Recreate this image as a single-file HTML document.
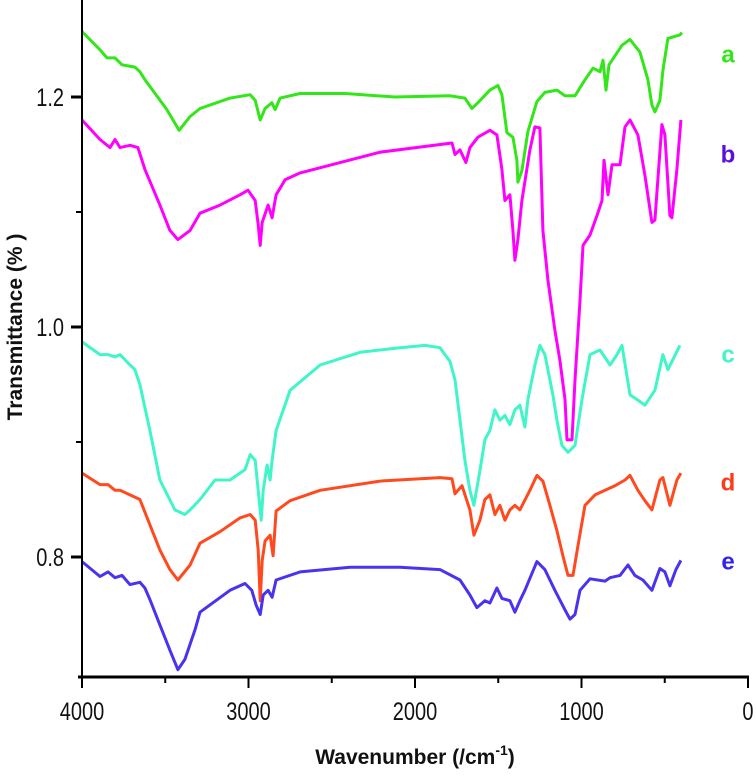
<!DOCTYPE html>
<html><head><meta charset="utf-8"><style>
html,body{margin:0;padding:0;background:#fff;}
svg{display:block;font-family:"Liberation Sans",sans-serif;}
</style></head><body>
<svg id="chart" width="756" height="778" viewBox="0 0 756 778" xmlns="http://www.w3.org/2000/svg"></svg>
<script>
const xTicks=[4000,3000,2000,1000,0];
const xMinor=[3500,2500,1500,500];
const yTicks=[0.8,1.0,1.2];
const yTickLabels=["0.8","1.0","1.2"];
const yMinor=[0.9,1.1];
const seriesNames=["a","b","c","d","e"];
const seriesColors=["#33e619","#ff00ff","#40f5c8","#ff4a1f","#4a33ee"];
const labelColors=["#33e619","#5a10dd","#40f5c8","#ff3a1a","#3322ee"];
const aWave=[4000,3892,3850,3802,3760,3682,3652,3622,3490,3417,3351,3291,3111,2990,2960,2930,2900,2860,2840,2810,2690,2420,2120,1790,1700,1658,1622,1550,1502,1478,1448,1412,1388,1382,1358,1322,1268,1220,1147,1099,1039,979,931,889,871,853,835,757,709,649,601,577,559,529,511,481,409,397];
const aVal=[1.257,1.241,1.234,1.234,1.228,1.226,1.222,1.215,1.189,1.171,1.183,1.190,1.199,1.202,1.197,1.180,1.190,1.195,1.189,1.199,1.203,1.203,1.200,1.201,1.199,1.190,1.195,1.206,1.210,1.202,1.169,1.165,1.145,1.126,1.136,1.170,1.196,1.204,1.206,1.201,1.201,1.215,1.225,1.222,1.232,1.206,1.228,1.245,1.250,1.239,1.215,1.193,1.187,1.197,1.223,1.251,1.254,1.256];
const bWave=[4000,3892,3832,3802,3772,3712,3664,3622,3532,3472,3424,3351,3291,3171,3051,3003,2960,2942,2930,2918,2882,2858,2834,2780,2690,2210,1778,1760,1730,1694,1670,1622,1550,1508,1478,1460,1430,1412,1400,1382,1358,1310,1280,1250,1232,1202,1160,1130,1099,1087,1057,1039,1009,991,949,907,877,865,841,817,769,739,709,661,619,577,559,517,499,469,457,427,403];
const bVal=[1.180,1.163,1.156,1.163,1.156,1.158,1.156,1.137,1.106,1.084,1.076,1.084,1.099,1.106,1.115,1.119,1.110,1.089,1.071,1.091,1.106,1.095,1.115,1.128,1.134,1.152,1.160,1.150,1.154,1.143,1.156,1.165,1.171,1.167,1.137,1.110,1.115,1.084,1.058,1.076,1.110,1.154,1.174,1.173,1.084,1.041,0.997,0.971,0.937,0.902,0.902,0.954,1.023,1.071,1.080,1.097,1.110,1.145,1.115,1.141,1.141,1.174,1.180,1.167,1.132,1.091,1.093,1.176,1.167,1.097,1.095,1.137,1.180];
const cWave=[4000,3892,3844,3802,3772,3712,3682,3652,3592,3532,3442,3382,3351,3291,3201,3111,3021,2990,2960,2942,2924,2912,2888,2870,2858,2834,2750,2570,2330,2090,1940,1850,1790,1760,1730,1700,1670,1646,1610,1580,1550,1520,1490,1460,1430,1400,1370,1340,1322,1280,1250,1220,1172,1148,1118,1081,1039,997,949,889,829,787,757,709,667,619,559,511,481,409];
const cVal=[0.987,0.976,0.976,0.974,0.976,0.967,0.963,0.950,0.910,0.867,0.841,0.837,0.841,0.850,0.867,0.867,0.876,0.889,0.884,0.858,0.832,0.858,0.880,0.867,0.884,0.910,0.945,0.967,0.978,0.982,0.984,0.982,0.970,0.954,0.919,0.884,0.858,0.845,0.875,0.902,0.910,0.928,0.919,0.923,0.915,0.928,0.932,0.913,0.937,0.967,0.984,0.976,0.941,0.919,0.897,0.891,0.897,0.937,0.976,0.980,0.967,0.976,0.984,0.941,0.937,0.932,0.945,0.976,0.963,0.984];
const dWave=[4000,3892,3844,3802,3772,3712,3652,3592,3532,3472,3424,3351,3291,3171,3051,2990,2960,2942,2930,2918,2900,2870,2852,2834,2750,2570,2210,1850,1778,1760,1718,1670,1646,1610,1580,1550,1520,1490,1460,1430,1400,1370,1310,1268,1232,1190,1148,1112,1081,1051,1021,979,919,859,799,739,709,661,619,577,529,511,469,427,403];
const dVal=[0.873,0.863,0.863,0.858,0.858,0.854,0.850,0.828,0.806,0.789,0.780,0.793,0.812,0.822,0.834,0.837,0.832,0.806,0.762,0.797,0.814,0.819,0.801,0.840,0.849,0.858,0.866,0.869,0.868,0.855,0.862,0.841,0.819,0.832,0.850,0.854,0.837,0.845,0.832,0.841,0.845,0.841,0.858,0.871,0.866,0.845,0.823,0.801,0.784,0.784,0.810,0.845,0.854,0.858,0.862,0.867,0.871,0.858,0.849,0.841,0.867,0.869,0.845,0.867,0.873];
const eWave=[4000,3892,3844,3802,3760,3712,3652,3622,3592,3532,3472,3424,3382,3321,3291,3111,3021,2980,2954,2930,2912,2882,2858,2834,2690,2390,2090,1850,1730,1670,1628,1580,1550,1508,1478,1430,1400,1370,1340,1268,1220,1160,1099,1069,1039,1009,949,859,829,769,721,679,631,577,529,499,469,433,403];
const eVal=[0.796,0.783,0.787,0.782,0.784,0.776,0.778,0.773,0.763,0.741,0.719,0.702,0.711,0.737,0.752,0.771,0.777,0.771,0.758,0.750,0.767,0.771,0.765,0.780,0.787,0.791,0.791,0.789,0.780,0.767,0.756,0.762,0.760,0.773,0.764,0.762,0.752,0.762,0.771,0.796,0.789,0.771,0.754,0.746,0.750,0.771,0.781,0.779,0.782,0.784,0.793,0.784,0.780,0.771,0.790,0.787,0.775,0.789,0.797];
const waves=[aWave,bWave,cWave,dWave,eWave];
const vals=[aVal,bVal,cVal,dVal,eVal];
const labelY=[1.237,1.150,0.976,0.865,0.796];

const X0=82,X1=748,Y0=677;
function xs(w){return X0+(4000-w)*(X1-X0)/4000;}
function ys(v){return 327-(v-1.0)*1150;}
const svg=document.getElementById('chart');
const NS='http://www.w3.org/2000/svg';
function mk(tag,attrs,parent){const e=document.createElementNS(NS,tag);for(const k in attrs)e.setAttribute(k,attrs[k]);(parent||svg).appendChild(e);return e;}

const g=mk('g',{});


for(let s=0;s<5;s++){
  const pts=waves[s].map((w,i)=>xs(w).toFixed(1)+','+ys(vals[s][i]).toFixed(1)).join(' ');
  const p=mk('polyline',{points:pts,fill:'none',stroke:seriesColors[s],'stroke-width':3,'stroke-linejoin':'round'},g);
  
  
  const t=mk('text',{x:728,y:ys(labelY[s])+8,fill:labelColors[s],'font-size':24,'font-weight':'bold','text-anchor':'middle'});
  t.textContent=seriesNames[s];
  
  
}
const ax=mk('g',{});


const yl=mk('line',{x1:X0,y1:0,x2:X0,y2:Y0,stroke:'#000','stroke-width':2},ax);


const xl=mk('line',{x1:X0-4,y1:Y0,x2:X1+1,y2:Y0,stroke:'#000','stroke-width':3},ax);


xTicks.forEach(w=>{
  mk('line',{x1:xs(w),y1:Y0,x2:xs(w),y2:Y0+11,stroke:'#000','stroke-width':2},ax);
  const t=mk('text',{x:xs(w),y:Y0+43,'font-size':25,'text-anchor':'middle',fill:'#111',transform:`translate(${xs(w)} 0) scale(0.8 1) translate(${-xs(w)} 0)`},ax);
  t.textContent=String(w);
  
  
});
xMinor.forEach(w=>{mk('line',{x1:xs(w),y1:Y0,x2:xs(w),y2:Y0+6,stroke:'#000','stroke-width':2},ax);});
yTicks.forEach((v,i)=>{
  mk('line',{x1:X0-11,y1:ys(v),x2:X0,y2:ys(v),stroke:'#000','stroke-width':3},ax);
  const t=mk('text',{x:X0-18,y:ys(v)+9,'font-size':25,'text-anchor':'end',fill:'#111',transform:`translate(${X0-18} 0) scale(0.8 1) translate(${-(X0-18)} 0)`},ax);
  t.textContent=yTickLabels[i];
  
  
});
yMinor.forEach(v=>{mk('line',{x1:X0-6,y1:ys(v),x2:X0,y2:ys(v),stroke:'#000','stroke-width':2},ax);});
</script>
<svg style="position:absolute;left:0;top:0" width="756" height="778">
<text x="0" y="0" transform="translate(22 327) rotate(-90)" text-anchor="middle" font-family="Liberation Sans, sans-serif" font-size="21" font-weight="bold" fill="#111">Transmittance (% )</text>
<text x="415" y="764" text-anchor="middle" font-family="Liberation Sans, sans-serif" font-size="21" font-weight="bold" fill="#111">Wavenumber (/cm<tspan dy="-9" font-size="14">-1</tspan><tspan dy="9">)</tspan></text>
</svg>
</body></html>
